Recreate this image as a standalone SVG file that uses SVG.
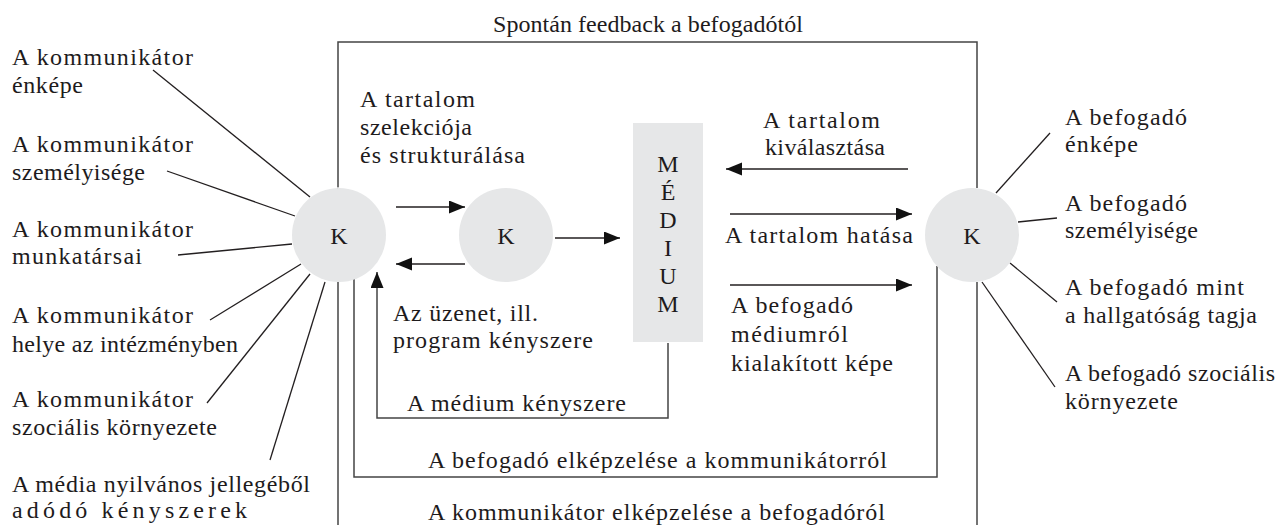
<svg xmlns="http://www.w3.org/2000/svg" width="1283" height="525" viewBox="0 0 1283 525">
<style>
text{font-family:"Liberation Serif","Times New Roman",serif;font-size:24px;fill:#1e1b1c}
.c{text-anchor:middle}
.ln{stroke:#231f20;stroke-width:1.3;fill:none}
.lp{stroke:#444;stroke-width:1.5;fill:none}
.nd{fill:#e6e7e8}
</style>
<defs>
<marker id="ah" markerUnits="userSpaceOnUse" markerWidth="17" markerHeight="14" refX="16" refY="6.5" orient="auto">
<path d="M0,0 L16,6.5 L0,13 z" fill="#111"/>
</marker>
</defs>
<rect width="1283" height="525" fill="#fff"/>
<g id="connectors">
<path class="lp" d="M338,187 V42 H977 V188" marker-start="url(#ah)"/>
<path class="lp" d="M338,282 V525"/>
<path class="lp" d="M977,282 V525"/>
<path class="lp" d="M354,279 V477 H937 V266"/>
<path class="lp" d="M668,343 V418 H377 V272" marker-end="url(#ah)"/>
<line class="ln" x1="396" y1="207" x2="465" y2="207" marker-end="url(#ah)"/>
<line class="ln" x1="465" y1="264" x2="396" y2="264" marker-end="url(#ah)"/>
<line class="ln" x1="555" y1="238" x2="620" y2="238" marker-end="url(#ah)"/>
<line class="ln" x1="908" y1="169" x2="726" y2="169" marker-end="url(#ah)"/>
<line class="ln" x1="730" y1="214" x2="912" y2="214" marker-end="url(#ah)"/>
<line class="ln" x1="730" y1="285" x2="912" y2="285" marker-end="url(#ah)"/>
<line class="ln" x1="153" y1="70" x2="310" y2="197"/>
<line class="ln" x1="167" y1="171" x2="295" y2="216"/>
<line class="ln" x1="178" y1="255" x2="292" y2="244"/>
<line class="ln" x1="210" y1="320" x2="301" y2="264"/>
<line class="ln" x1="207" y1="403" x2="310" y2="274"/>
<line class="ln" x1="270" y1="460" x2="325" y2="282"/>
<line class="ln" x1="1050" y1="133" x2="996" y2="193"/>
<line class="ln" x1="1057" y1="218" x2="1018" y2="222"/>
<line class="ln" x1="1057" y1="302" x2="1010" y2="263"/>
<line class="ln" x1="1055" y1="387" x2="982" y2="282"/>
</g>
<g id="node-k-communicator">
<circle class="nd" cx="339" cy="235" r="47"/>
<text class="c" x="339" y="244">K</text>
</g>
<g id="node-k-middle">
<circle class="nd" cx="506" cy="235" r="47"/>
<text class="c" x="506" y="244">K</text>
</g>
<g id="node-k-receiver">
<circle class="nd" cx="972" cy="235" r="47"/>
<text class="c" x="972" y="244">K</text>
</g>
<g id="node-medium">
<rect class="nd" x="633" y="123" width="70" height="219"/>
<text class="c" x="668" y="172">M</text>
<text class="c" x="668" y="200">É</text>
<text class="c" x="668" y="228">D</text>
<text class="c" x="668" y="256">I</text>
<text class="c" x="668" y="284">U</text>
<text class="c" x="668" y="312">M</text>
</g>
<g id="labels-left">
<text x="12" y="65" textLength="181" lengthAdjust="spacing">A kommunikátor</text>
<text x="12" y="93" textLength="71" lengthAdjust="spacing">énképe</text>
<text x="12" y="152" textLength="181" lengthAdjust="spacing">A kommunikátor</text>
<text x="12" y="180" textLength="133" lengthAdjust="spacing">személyisége</text>
<text x="12" y="237" textLength="181" lengthAdjust="spacing">A kommunikátor</text>
<text x="12" y="264" textLength="130" lengthAdjust="spacing">munkatársai</text>
<text x="12" y="323" textLength="181" lengthAdjust="spacing">A kommunikátor</text>
<text x="12" y="352" textLength="226" lengthAdjust="spacing">helye az intézményben</text>
<text x="12" y="407" textLength="181" lengthAdjust="spacing">A kommunikátor</text>
<text x="12" y="435" textLength="205" lengthAdjust="spacing">szociális környezete</text>
<text x="12" y="492" textLength="298" lengthAdjust="spacing">A média nyilvános jellegéből</text>
<text x="12" y="518" textLength="235" lengthAdjust="spacing">adódó kényszerek</text>
</g>
<g id="labels-center">
<text x="493" y="32" textLength="310" lengthAdjust="spacing">Spontán feedback a befogadótól</text>
<text x="360" y="107" textLength="115" lengthAdjust="spacing">A tartalom</text>
<text x="360" y="135" textLength="112" lengthAdjust="spacing">szelekciója</text>
<text x="360" y="163" textLength="165" lengthAdjust="spacing">és strukturálása</text>
<text x="393" y="321" textLength="145" lengthAdjust="spacing">Az üzenet, ill.</text>
<text x="393" y="348" textLength="200" lengthAdjust="spacing">program kényszere</text>
<text x="407" y="411" textLength="219" lengthAdjust="spacing">A médium kényszere</text>
<text x="428" y="468" textLength="459" lengthAdjust="spacing">A befogadó elképzelése a kommunikátorról</text>
<text x="428" y="520" textLength="457" lengthAdjust="spacing">A kommunikátor elképzelése a befogadóról</text>
<text x="763" y="128" textLength="117" lengthAdjust="spacing">A tartalom</text>
<text x="765" y="155" textLength="120" lengthAdjust="spacing">kiválasztása</text>
<text x="725" y="243" textLength="188" lengthAdjust="spacing">A tartalom hatása</text>
<text x="731" y="313" textLength="122" lengthAdjust="spacing">A befogadó</text>
<text x="731" y="342" textLength="117" lengthAdjust="spacing">médiumról</text>
<text x="731" y="371" textLength="162" lengthAdjust="spacing">kialakított képe</text>
</g>
<g id="labels-right">
<text x="1065" y="125" textLength="122" lengthAdjust="spacing">A befogadó</text>
<text x="1065" y="152" textLength="73" lengthAdjust="spacing">énképe</text>
<text x="1065" y="211" textLength="122" lengthAdjust="spacing">A befogadó</text>
<text x="1065" y="238" textLength="133" lengthAdjust="spacing">személyisége</text>
<text x="1065" y="295" textLength="179" lengthAdjust="spacing">A befogadó mint</text>
<text x="1065" y="323" textLength="192" lengthAdjust="spacing">a hallgatóság tagja</text>
<text x="1065" y="381" textLength="210" lengthAdjust="spacing">A befogadó szociális</text>
<text x="1065" y="409" textLength="113" lengthAdjust="spacing">környezete</text>
</g>
</svg>
